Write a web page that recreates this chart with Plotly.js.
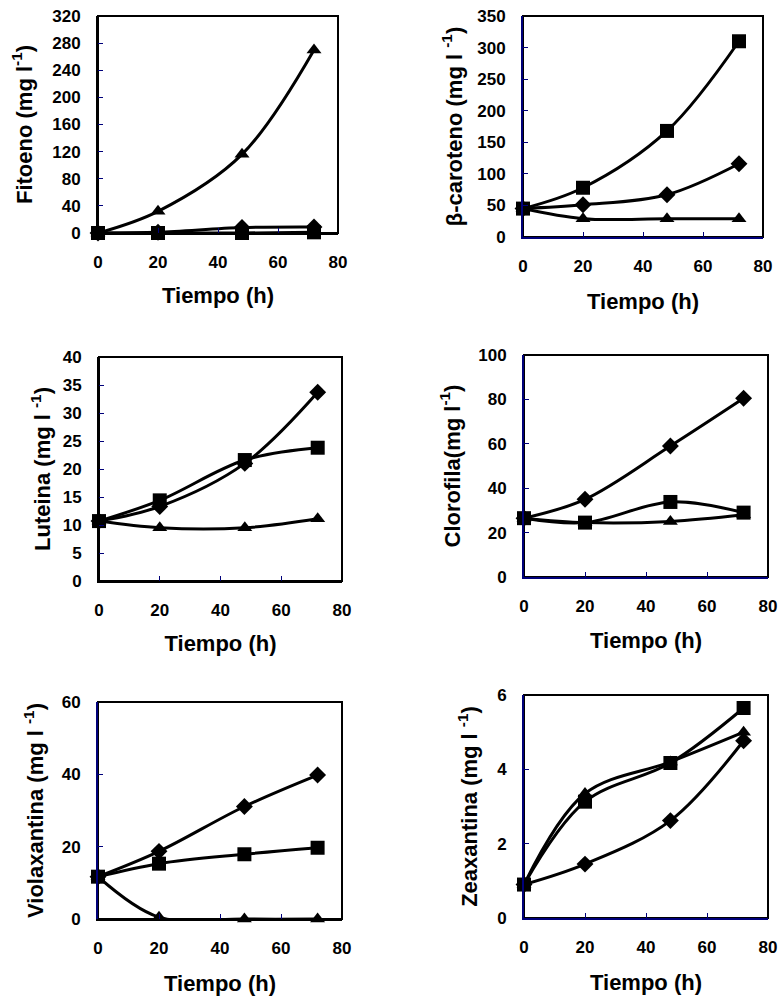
<!DOCTYPE html>
<html>
<head>
<meta charset="utf-8">
<script src="https://cdn.plot.ly/plotly-3.0.1.min.js"></script>
<style>html,body{margin:0;padding:0;background:#fff;}#chart{width:780px;height:1005px;}</style>
</head>
<body>
<div id="chart"></div>
<script>
// ---- data ----
const tiempo = [0, 20, 48, 72];
const xTicks = [0, 20, 40, 60, 80];

const fitoenoDiamante = [0, 1, 8, 9];
const fitoenoCuadrado = [0, 0, 0, 1];
const fitoenoTriangulo = [0, 32, 116, 270];

const carotenoDiamante = [45, 51, 67, 116];
const carotenoCuadrado = [45, 78, 168, 310];
const carotenoTriangulo = [45, 29, 29, 29];

const luteinaDiamante = [10.7, 13.3, 21, 33.7];
const luteinaCuadrado = [10.7, 14.4, 21.6, 23.8];
const luteinaTriangulo = [10.7, 9.5, 9.5, 11.1];

const clorofilaDiamante = [26.5, 35, 59, 80.5];
const clorofilaCuadrado = [26.5, 24.5, 33.8, 29];
const clorofilaTriangulo = [26.5, 24.5, 25, 28];

const violaxantinaDiamante = [11.7, 18.7, 31.1, 39.8];
const violaxantinaCuadrado = [11.7, 15.3, 17.9, 19.7];
const violaxantinaTriangulo = [11.7, 0.5, 0, 0];

const zeaxantinaDiamante = [0.9, 1.45, 2.62, 4.77];
const zeaxantinaCuadrado = [0.9, 3.13, 4.17, 5.65];
const zeaxantinaTriangulo = [0.9, 3.35, 4.2, 5.0];

const yTitles = [
  'Fitoeno (mg l<sup>-1</sup>)',
  'β-caroteno (mg l <sup>-1</sup>)',
  'Luteina (mg l <sup>-1</sup>)',
  'Clorofila(mg l<sup>-1</sup>)',
  'Violaxantina (mg l <sup>-1</sup>)',
  'Zeaxantina (mg l <sup>-1</sup>)'
];
const xTitle = 'Tiempo (h)';
const yMax = [320, 350, 40, 100, 60, 6];
const yStep = [40, 50, 5, 20, 20, 2];

const panels = [
  [fitoenoDiamante, fitoenoCuadrado, fitoenoTriangulo],
  [carotenoDiamante, carotenoCuadrado, carotenoTriangulo],
  [luteinaDiamante, luteinaCuadrado, luteinaTriangulo],
  [clorofilaDiamante, clorofilaCuadrado, clorofilaTriangulo],
  [violaxantinaDiamante, violaxantinaCuadrado, violaxantinaTriangulo],
  [zeaxantinaDiamante, zeaxantinaCuadrado, zeaxantinaTriangulo]
];

// ---- layout geometry (pixels) ----
const W = 780, H = 1005;
const boxes = [ // [left, right, top, bottom]
  [98, 338, 16, 233],
  [523, 763, 16, 237],
  [99, 342, 357, 581],
  [524, 768, 355, 577],
  [98, 342, 702, 919],
  [524, 768, 695, 918]
];
const yTitleStandoff = [14, 9, 6, 12, 12, 13];
const xTitleStandoff = [16, 18, 16, 17, 18, 18];
const leftColor = ['#000', '#00007a', '#000', '#00007a', '#00007a', '#00007a'];
const bottomColor = ['#000', '#00007a', '#000', '#00007a', '#000', '#00007a'];

const FONT = 'Arial, "Liberation Sans", sans-serif';
const symbols = ['diamond', 'square', 'triangle-up'];
const sizes = [13, 14, 13];
const drawOrder = [2, 0, 1];

const traces = [];
const layout = {
  width: W, height: H,
  margin: {l: 0, r: 0, t: 0, b: 0},
  paper_bgcolor: '#fff', plot_bgcolor: '#fff',
  showlegend: false,
  shapes: []
};

panels.forEach((series, i) => {
  const k = i + 1;
  const xa = 'x' + (k === 1 ? '' : k), ya = 'y' + (k === 1 ? '' : k);
  drawOrder.forEach(s => {
    traces.push({
      x: tiempo, y: series[s], xaxis: xa, yaxis: ya,
      type: 'scatter', mode: 'lines+markers', cliponaxis: false,
      line: {color: '#000', width: 3, shape: 'spline', smoothing: 1},
      marker: {symbol: symbols[s], size: sizes[s], color: '#000'},
      hoverinfo: 'x+y'
    });
  });
  const b = boxes[i];
  const axx = 'xaxis' + (k === 1 ? '' : k), axy = 'yaxis' + (k === 1 ? '' : k);
  layout[axx] = {
    domain: [b[0] / W, b[1] / W], anchor: ya,
    range: [0, 80], tickvals: xTicks, ticks: 'inside', ticklen: 5, tickwidth: 1, tickcolor: '#00007a',
    showline: true, linecolor: bottomColor[i], linewidth: 2, showgrid: false, zeroline: false,
    tickfont: {family: FONT, size: 17, color: '#000', weight: 'bold'}, ticklabelstandoff: 13,
    title: {text: xTitle, standoff: xTitleStandoff[i], font: {family: FONT, size: 22, color: '#000', weight: 'bold'}},
    automargin: false, fixedrange: true
  };
  const yt = [];
  for (let v = 0; v <= yMax[i] + 1e-9; v += yStep[i]) yt.push(+v.toFixed(6));
  layout[axy] = {
    domain: [1 - b[3] / H, 1 - b[2] / H], anchor: xa,
    range: [0, yMax[i]], tickvals: yt, ticks: 'inside', ticklen: 5, tickwidth: 1, tickcolor: '#00007a',
    showline: true, linecolor: leftColor[i], linewidth: 2, showgrid: false, zeroline: false,
    tickfont: {family: FONT, size: 17, color: '#000', weight: 'bold'}, ticklabelstandoff: 12,
    title: {text: yTitles[i], standoff: yTitleStandoff[i], font: {family: FONT, size: 22, color: '#000', weight: 'bold'}},
    automargin: false, fixedrange: true
  };
  layout.shapes.push({
    type: 'rect', xref: xa + ' domain', yref: ya + ' domain', x0: 0, x1: 1, y0: 0, y1: 1,
    line: {color: '#000', width: 2}, layer: 'below'
  });
});

Plotly.newPlot('chart', traces, layout, {displayModeBar: false, staticPlot: true});
</script>
</body>
</html>
